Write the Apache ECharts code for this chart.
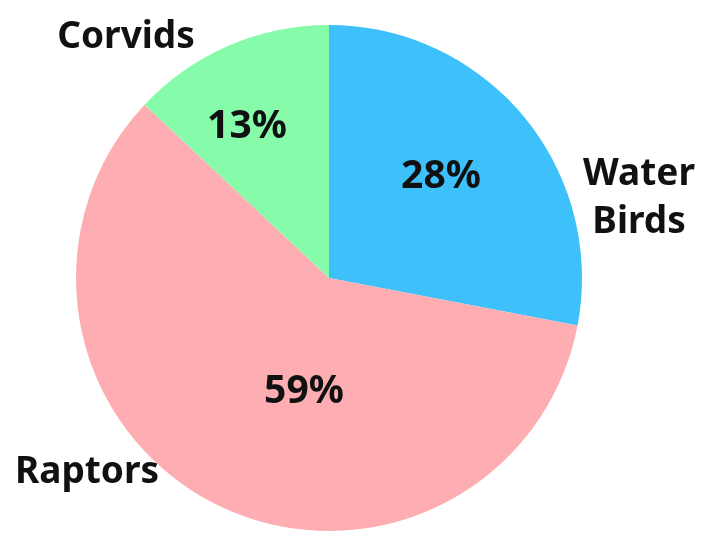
<!DOCTYPE html>
<html>
<head>
<meta charset="utf-8">
<script src="https://cdn.jsdelivr.net/npm/echarts@6/dist/echarts.min.js"></script>
<style>
  html, body { margin: 0; padding: 0; background: #fff; }
  #container { width: 707px; height: 553px; }
</style>
</head>
<body>
<div id="container"></div>
<script>
var categories = ['Water Birds', 'Raptors', 'Corvids'];
var shares = [28, 59, 13];
var colors = ['#3ec1fb', '#feaeb2', '#86fba9'];

// label spots, index matches categories
var pctPos = [[441, 177], [304, 392], [247, 127]];
var namePos = [[639, 198], [87, 472], [126, 37]];
var nameText = ['Water\nBirds', 'Raptors', 'Corvids'];

var dom = document.getElementById('container');
var myChart = echarts.init(dom);

var pieData = categories.map(function (c, i) {
    return { name: c, value: shares[i], itemStyle: { color: colors[i] } };
});

var option = {
    animation: false,
    series: [
        {
            type: 'pie',
            center: [329, 278],
            radius: [0, 253],
            startAngle: 90,
            clockwise: true,
            silent: true,
            data: pieData,
            itemStyle: { borderWidth: 0 },
            label: {
                show: true,
                position: 'inside',
                formatter: '{d}%',
                color: '#111',
                fontFamily: 'Noto Sans',
                fontWeight: 'bold',
                fontSize: 39
            },
            labelLine: { show: false },
            labelLayout: function (p) {
                var pos = pctPos[p.dataIndex];
                return { x: pos[0], y: pos[1], align: 'center', verticalAlign: 'middle' };
            }
        },
        {
            type: 'pie',
            center: [329, 278],
            radius: [0, 253],
            startAngle: 90,
            clockwise: true,
            silent: true,
            data: pieData.map(function (d) {
                return { name: d.name, value: d.value, itemStyle: { color: 'transparent' } };
            }),
            label: {
                show: true,
                position: 'outside',
                formatter: function (p) { return nameText[p.dataIndex]; },
                color: '#111',
                fontFamily: 'Noto Sans',
                fontWeight: 'bold',
                fontSize: 37,
                lineHeight: 48,
                align: 'center'
            },
            labelLine: { show: false },
            labelLayout: function (p) {
                var pos = namePos[p.dataIndex];
                return { x: pos[0], y: pos[1], align: 'center', verticalAlign: 'middle' };
            }
        }
    ]
};
myChart.setOption(option, true);
</script>
</body>
</html>
